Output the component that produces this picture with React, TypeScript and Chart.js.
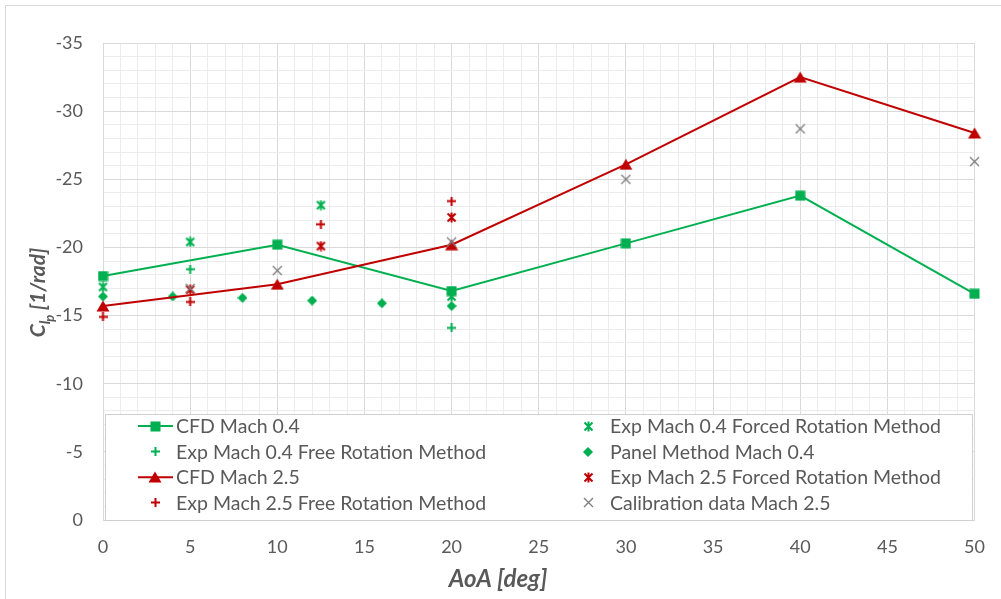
import React, { useEffect, useRef } from 'react';
import { Chart, registerables } from 'chart.js';

Chart.register(...registerables);

const GREEN = '#00B050';
const RED = '#C00000';
const GRAY = '#7F7F7F';
const TEXT = '#595959';
const MAJOR = '#d9d9d9';
const MINOR = '#ececec';
const FONT = 'Lato';

// AoA [deg] values and C_lp [1/rad] values
const cfdAoA = [0, 10, 20, 30, 40, 50];
const cfdMach04 = [-17.9, -20.2, -16.8, -20.3, -23.8, -16.6];
const cfdMach25 = [-15.7, -17.3, -20.2, -26.1, -32.5, -28.4];

const exp04ForcedAoA = [0, 5, 12.5, 20];
const exp04Forced = [-17.1, -20.4, -23.1, -16.4];

const exp04FreeAoA = [5, 20];
const exp04Free = [-18.4, -14.1];

const panelAoA = [0, 4, 8, 12, 16, 20];
const panelMach04 = [-16.4, -16.4, -16.3, -16.1, -15.9, -15.7];

const exp25ForcedAoA = [5, 12.5, 20];
const exp25Forced = [-16.9, -20.1, -22.2];

const exp25FreeAoA = [0, 5, 12.5, 20];
const exp25Free = [-14.9, -16.0, -21.7, -23.4];

const calibAoA = [5, 10, 20, 30, 40, 50];
const calibMach25 = [-17.0, -18.3, -20.4, -25.0, -28.7, -26.3];

const seriesLabels = [
  'CFD Mach 0.4',
  'Exp Mach 0.4 Forced Rotation Method',
  'Exp Mach 0.4 Free Rotation Method',
  'Panel Method Mach 0.4',
  'CFD Mach 2.5',
  'Exp Mach 2.5 Forced Rotation Method',
  'Exp Mach 2.5 Free Rotation Method',
  'Calibration data Mach 2.5',
];

const xTicks = [0, 5, 10, 15, 20, 25, 30, 35, 40, 45, 50];
const yTicks = [-35, -30, -25, -20, -15, -10, -5, 0];

function pts(xs: number[], ys: number[]) {
  return xs.map((x, i) => ({ x, y: ys[i] }));
}

type Kind = 'square' | 'triangle' | 'diamond' | 'plus' | 'star' | 'x';

function marker(kind: Kind, color: string): HTMLCanvasElement {
  const c = document.createElement('canvas');
  const sizes: Record<Kind, [number, number]> = {
    square: [11, 11],
    triangle: [14, 12],
    diamond: [10, 10],
    plus: [9, 9],
    star: [11, 11],
    x: [11, 11],
  };
  const [w, h] = sizes[kind];
  c.width = w;
  c.height = h;
  const g = c.getContext('2d')!;
  g.fillStyle = color;
  g.strokeStyle = color;
  g.lineCap = 'butt';
  if (kind === 'square') {
    g.fillRect(0.5, 0.5, w - 1, h - 1);
  } else if (kind === 'triangle') {
    g.beginPath();
    g.moveTo(w / 2, 0.5);
    g.lineTo(w - 0.5, h - 0.5);
    g.lineTo(0.5, h - 0.5);
    g.closePath();
    g.fill();
  } else if (kind === 'diamond') {
    g.beginPath();
    g.moveTo(w / 2, 0);
    g.lineTo(w, h / 2);
    g.lineTo(w / 2, h);
    g.lineTo(0, h / 2);
    g.closePath();
    g.fill();
  } else if (kind === 'plus') {
    g.lineWidth = 2;
    g.beginPath();
    g.moveTo(w / 2, 0);
    g.lineTo(w / 2, h);
    g.moveTo(0, h / 2);
    g.lineTo(w, h / 2);
    g.stroke();
  } else if (kind === 'star') {
    g.lineWidth = 2;
    g.beginPath();
    g.moveTo(1.5, 1.5);
    g.lineTo(w - 1.5, h - 1.5);
    g.moveTo(w - 1.5, 1.5);
    g.lineTo(1.5, h - 1.5);
    g.moveTo(w / 2, 0.5);
    g.lineTo(w / 2, h - 0.5);
    g.stroke();
  } else if (kind === 'x') {
    g.lineWidth = 1.4;
    g.beginPath();
    g.moveTo(1, 1);
    g.lineTo(w - 1, h - 1);
    g.moveTo(w - 1, 1);
    g.lineTo(1, h - 1);
    g.stroke();
  }
  return c;
}

const legendAndTitles = {
  id: 'legendAndTitles',
  afterDraw(chart: any) {
    const ctx = chart.ctx as CanvasRenderingContext2D;
    ctx.save();
    // outer chart border
    ctx.strokeStyle = MAJOR;
    ctx.lineWidth = 1;
    ctx.beginPath();
    ctx.moveTo(5.5, 599);
    ctx.lineTo(5.5, 5.5);
    ctx.lineTo(1001, 5.5);
    ctx.stroke();

    // legend box
    const lx = 105.5, ly = 414.5, lw = 867, lh = 106;
    ctx.fillStyle = '#ffffff';
    ctx.fillRect(lx, ly, lw, lh);
    ctx.strokeStyle = '#d0d0d0';
    ctx.lineWidth = 1;
    ctx.strokeRect(lx, ly, lw, lh);

    ctx.font = `19.5px ${FONT}`;
    ctx.textBaseline = 'middle';
    ctx.textAlign = 'left';
    chart.data.datasets.forEach((ds: any, i: number) => {
      const row = Math.floor(i / 2);
      const col = i % 2;
      const cy = 426 + row * 25.6;
      const mx = col === 0 ? 155 : 588;
      const tx = col === 0 ? 176 : 610;
      if (ds.showLine) {
        ctx.strokeStyle = ds.borderColor;
        ctx.lineWidth = 2;
        ctx.beginPath();
        ctx.moveTo(138, cy);
        ctx.lineTo(173, cy);
        ctx.stroke();
      }
      const img = ds.pointStyle as HTMLCanvasElement;
      ctx.drawImage(img, Math.round(mx - img.width / 2), Math.round(cy - img.height / 2));
      ctx.fillStyle = TEXT;
      ctx.fillText(ds.label, tx, cy + 1);
    });

    // x axis title
    ctx.fillStyle = TEXT;
    ctx.font = `italic bold 24px ${FONT}`;
    ctx.textAlign = 'center';
    ctx.textBaseline = 'middle';
    ctx.fillText('AoA [deg]', 498, 579);

    // y axis title with subscripts
    ctx.translate(38, 292);
    ctx.rotate(-Math.PI / 2);
    ctx.textAlign = 'left';
    ctx.textBaseline = 'alphabetic';
    const parts: [string, number, number][] = [
      ['C', 21, 0],
      ['l', 15, 5],
      ['p', 13, 9],
      [' [1/rad]', 21, 0],
    ];
    let total = 0;
    const widths = parts.map(([t, s]) => {
      ctx.font = `italic bold ${s}px ${FONT}`;
      const w = ctx.measureText(t).width;
      total += w;
      return w;
    });
    let x = -total / 2;
    parts.forEach(([t, s, dy], k) => {
      ctx.font = `italic bold ${s}px ${FONT}`;
      ctx.fillText(t, x, 7 + dy);
      x += widths[k] + (k === 1 ? -1 : 0);
    });
    ctx.restore();
  },
};

export default function App() {
  const ref = useRef<HTMLCanvasElement | null>(null);
  useEffect(() => {
    if (!ref.current) return;
    const gridColor = (c: any) =>
      c.tick && Math.abs(c.tick.value % 5) < 1e-9 ? MAJOR : MINOR;
    const n = seriesLabels.length;
    const datasets: any[] = [
      { data: pts(cfdAoA, cfdMach04), style: marker('square', GREEN), color: GREEN, line: true },
      { data: pts(exp04ForcedAoA, exp04Forced), style: marker('star', GREEN), color: GREEN, line: false },
      { data: pts(exp04FreeAoA, exp04Free), style: marker('plus', GREEN), color: GREEN, line: false },
      { data: pts(panelAoA, panelMach04), style: marker('diamond', GREEN), color: GREEN, line: false },
      { data: pts(cfdAoA, cfdMach25), style: marker('triangle', RED), color: RED, line: true },
      { data: pts(exp25ForcedAoA, exp25Forced), style: marker('star', RED), color: RED, line: false },
      { data: pts(exp25FreeAoA, exp25Free), style: marker('plus', RED), color: RED, line: false },
      { data: pts(calibAoA, calibMach25), style: marker('x', GRAY), color: GRAY, line: false },
    ].map((d, i) => ({
      label: seriesLabels[i],
      data: d.data,
      showLine: d.line,
      borderColor: d.color,
      backgroundColor: d.color,
      borderWidth: 2,
      pointStyle: d.style,
      pointRadius: 6,
      tension: 0,
      clip: false,
      order: n - i,
    }));

    const chart = new Chart(ref.current, {
      type: 'scatter',
      data: { datasets },
      options: {
        responsive: false,
        animation: false,
        layout: { padding: { top: 43, right: 25, left: 0, bottom: 0 } },
        plugins: {
          legend: { display: false },
          tooltip: { enabled: false },
          title: { display: false },
        },
        scales: {
          x: {
            type: 'linear',
            min: 0,
            max: 50,
            afterFit: (s: any) => { s.height = 79; },
            afterBuildTicks: (s: any) => {
              const t: any[] = [];
              for (let v = 0; v <= 50; v++) t.push({ value: v });
              s.ticks = t;
            },
            ticks: {
              autoSkip: false,
              maxRotation: 0,
              padding: 16,
              color: TEXT,
              font: { family: FONT, size: 18 },
              callback: (v: any) => (xTicks.includes(Number(v)) ? String(v) : ''),
            },
            grid: { color: gridColor, drawTicks: false, lineWidth: 1 },
            border: { color: MAJOR },
          },
          y: {
            type: 'linear',
            min: -35,
            max: 0,
            reverse: true,
            afterFit: (s: any) => { s.width = 103; },
            afterBuildTicks: (s: any) => {
              const t: any[] = [];
              for (let v = -35; v <= 0; v++) t.push({ value: v });
              s.ticks = t;
            },
            ticks: {
              autoSkip: false,
              padding: 20,
              color: TEXT,
              font: { family: FONT, size: 18 },
              callback: (v: any) => (yTicks.includes(Number(v)) ? String(v) : ''),
            },
            grid: { color: gridColor, drawTicks: false, lineWidth: 1 },
            border: { color: MAJOR },
          },
        },
      },
      plugins: [legendAndTitles],
    });
    return () => chart.destroy();
  }, []);

  return (
    <canvas
      ref={ref}
      width={1001}
      height={599}
      style={{ position: 'absolute', left: 0, top: 0, width: 1001, height: 599 }}
    />
  );
}
